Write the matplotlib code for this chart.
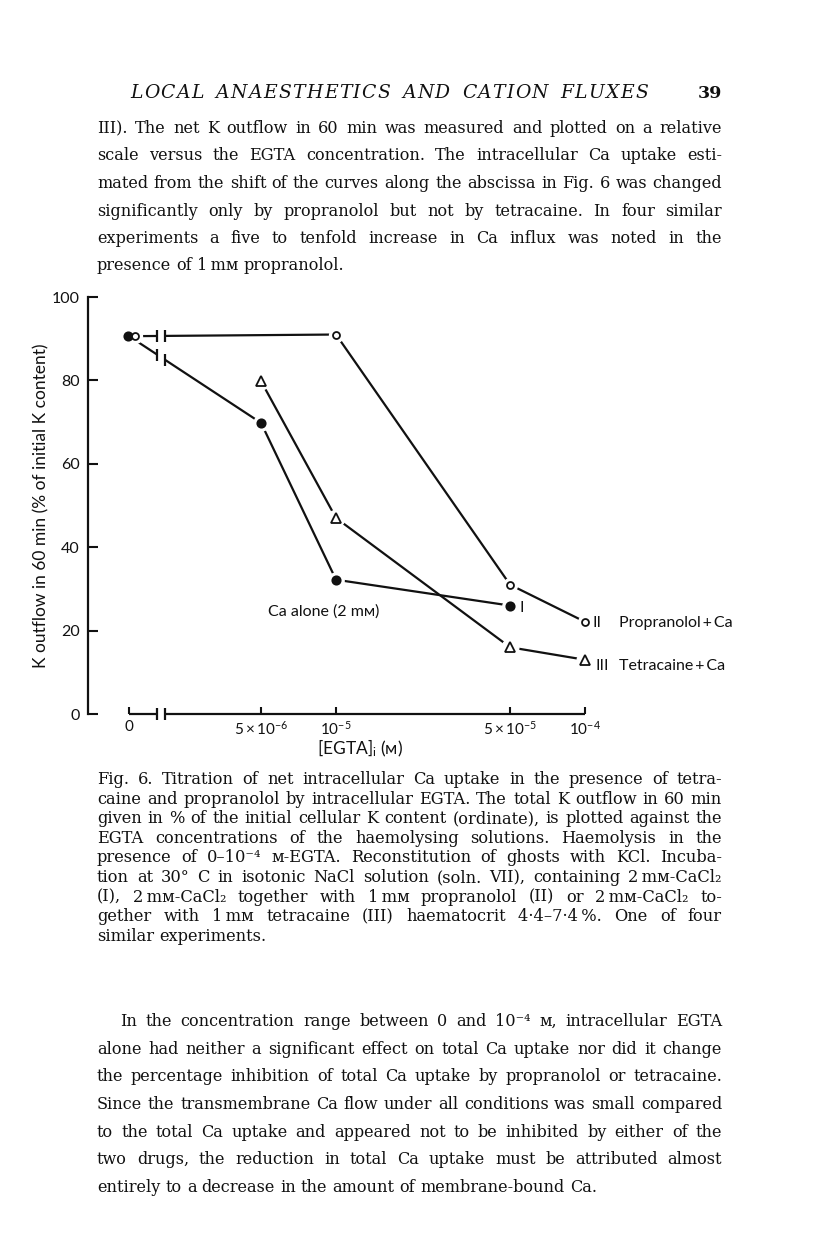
import numpy as np
import matplotlib
matplotlib.use('Agg')
import matplotlib.pyplot as plt
from matplotlib import transforms

W, H = 816, 1252
INK = '#111111'

# Fig. 6 data: intracellular EGTA (M) vs K outflow in 60 min (% of initial K)
egta_ca = [0, 5e-6, 1e-5, 5e-5]
kout_ca = [90.6, 69.8, 32.2, 26.0]
egta_prop = [0, 1e-5, 5e-5, 1e-4]
kout_prop = [90.6, 91.0, 31.0, 22.1]
egta_tetra = [5e-6, 1e-5, 5e-5, 1e-4]
kout_tetra = [79.8, 47.0, 16.0, 13.0]

xticks = [0, 5e-6, 1e-5, 5e-5, 1e-4]
xticklabels = ['0', r'$5\times10^{-6}$', r'$10^{-5}$', r'$5\times10^{-5}$', r'$10^{-4}$']
yticks = [0, 20, 40, 60, 80, 100]

# the "0" column sits left of a broken log axis
ZERO_AT = 1.476e-6
BREAK = (1.91e-6, 2.06e-6)

header = 'LOCAL ANAESTHETICS AND CATION FLUXES'
page_no = '39'
para1 = [
    'III). The net K outflow in 60 min was measured and plotted on a relative',
    'scale versus the EGTA concentration. The intracellular Ca uptake esti-',
    'mated from the shift of the curves along the abscissa in Fig. 6 was changed',
    'significantly only by propranolol but not by tetracaine. In four similar',
    'experiments a five to tenfold increase in Ca influx was noted in the',
    'presence of 1\u2009mм propranolol.',
]
caption = [
    'Fig. 6. Titration of net intracellular Ca uptake in the presence of tetra-',
    'caine and propranolol by intracellular EGTA. The total K outflow in 60 min',
    'given in % of the initial cellular K content (ordinate), is plotted against the',
    'EGTA concentrations of the haemolysing solutions. Haemolysis in the',
    'presence of 0\u201310\u207b\u2074 м-EGTA. Reconstitution of ghosts with KCl. Incuba-',
    'tion at 30° C in isotonic NaCl solution (soln. VII), containing 2\u2009mм-CaCl\u2082',
    '(I), 2\u2009mм-CaCl\u2082 together with 1\u2009mм propranolol (II) or 2\u2009mм-CaCl\u2082 to-',
    'gether with 1\u2009mм tetracaine (III) haematocrit 4·4\u20137·4\u2009%. One of four',
    'similar experiments.',
]
para2 = [
    'In the concentration range between 0 and 10\u207b\u2074 м, intracellular EGTA',
    'alone had neither a significant effect on total Ca uptake nor did it change',
    'the percentage inhibition of total Ca uptake by propranolol or tetracaine.',
    'Since the transmembrane Ca flow under all conditions was small compared',
    'to the total Ca uptake and appeared not to be inhibited by either of the',
    'two drugs, the reduction in total Ca uptake must be attributed almost',
    'entirely to a decrease in the amount of membrane-bound Ca.',
]

plt.rcParams['font.family'] = ['Lato', 'DejaVu Sans']
plt.rcParams['mathtext.fontset'] = 'custom'
plt.rcParams['mathtext.rm'] = 'Lato'
plt.rcParams['mathtext.it'] = 'Lato:italic'
plt.rcParams['mathtext.bf'] = 'Lato:bold'
SERIF = ['DejaVu Serif']


def fwd(c):
    c = np.asarray(c, float)
    return np.log10(np.where(c > 0, c, ZERO_AT))


def inv(p):
    return 10.0 ** np.asarray(p, float)


fig = plt.figure(figsize=(W / 100, H / 100), dpi=100)
fig.patch.set_facecolor('white')
renderer = fig.canvas.get_renderer()

# ---------------- chart ----------------
ax = fig.add_axes([88 / W, 1 - 714 / H, (600 - 88) / W, (714 - 297) / H])
ax.set_xscale('function', functions=(fwd, inv))
ax.set_yticks(yticks)
ax.set_xticks(xticks, xticklabels)
# limits after the ticks, otherwise set_xticks widens them to include 0
ax.set_xlim(inv(-5.996), inv(-3.940))
ax.set_ylim(0, 100)
ax.patch.set_alpha(0)
for s in ('top', 'right', 'bottom'):
    ax.spines[s].set_visible(False)
ax.spines['left'].set_linewidth(1.6)
ax.spines['left'].set_color(INK)
ax.tick_params(axis='y', direction='in', length=7, width=1.5, color=INK,
               labelsize=11.5, pad=6, labelcolor=INK)
ax.tick_params(axis='x', direction='in', length=5, width=1.5, color=INK,
               labelsize=11, pad=4, labelcolor=INK)

# broken abscissa
ax.plot([0, BREAK[0]], [0, 0], color=INK, lw=1.6, clip_on=False, solid_capstyle='butt')
ax.plot([BREAK[1], 1e-4], [0, 0], color=INK, lw=1.6, clip_on=False, solid_capstyle='butt')
ax.plot(BREAK, [0, 0], ls='none', marker='|', ms=9, mew=1.6, color=INK, clip_on=False)


def series(xs, ys, marker, ms, filled, zero_shift=0):
    ax.plot(xs, ys, color=INK, lw=1.6, zorder=2, clip_on=False)
    for x, y in zip(xs, ys):
        tr = ax.transData
        if x == 0:
            tr = transforms.offset_copy(ax.transData, fig, x=zero_shift, y=0, units='dots')
        ax.plot([x], [y], ls='none', marker='o', ms=ms + 5, color='white',
                zorder=3, transform=tr, clip_on=False)
        ax.plot([x], [y], ls='none', marker=marker, ms=ms, mec=INK, mew=1.3,
                mfc=INK if filled else 'white', zorder=4, transform=tr, clip_on=False)


series(egta_ca, kout_ca, 'o', 6, True, zero_shift=-1.5)
series(egta_prop, kout_prop, 'o', 5, False, zero_shift=6)
series(egta_tetra, kout_tetra, '^', 7, False)

# break marks on the curves crossing the gap
ax.axvspan(BREAK[0], BREAK[1], ymin=0.80, ymax=0.96, color='white', zorder=2.5, lw=0)
for xs, ys in [(egta_prop, kout_prop), (egta_ca, kout_ca)]:
    yb = np.interp(fwd(BREAK), fwd(xs[:2]), ys[:2])
    ax.plot(BREAK, yb, ls='none', marker='|', ms=9, mew=1.6, color=INK, zorder=5)

ax.text(8.95e-6, 24.5, 'Ca alone (2 mм)', ha='center', va='center', size=11.5, color=INK)
ann = dict(textcoords='offset pixels', va='center', ha='left', size=11.5, color=INK)
ax.annotate('I', (egta_ca[-1], kout_ca[-1]), xytext=(9, -2), **ann)
ax.annotate('II', (egta_prop[-1], kout_prop[-1]), xytext=(7, -1), **ann)
ax.annotate('Propranolol\u2009+\u2009Ca', (egta_prop[-1], kout_prop[-1]), xytext=(34, -1), **ann)
ax.annotate('III', (egta_tetra[-1], kout_tetra[-1]), xytext=(10, -6), **ann)
ax.annotate('Tetracaine\u2009+\u2009Ca', (egta_tetra[-1], kout_tetra[-1]), xytext=(34, -6), **ann)

ax.set_ylabel('K outflow in 60 min (% of initial K content)', size=12.5, color=INK)
ax.yaxis.set_label_coords(-0.075, 0.50)
ax.text((360 - 88) / 512, (714 - 748) / 417, r'[EGTA]$_{\rm i}$ (м)', transform=ax.transAxes,
        ha='center', va='center', size=12.5, color=INK)


# ---------------- page text ----------------
def measure(s, size, **kw):
    t = fig.text(0, 0, s, size=size, **kw)
    w = t.get_window_extent(renderer).width
    t.remove()
    return w


def space_w(size, **kw):
    return measure('n n', size, **kw) - measure('nn', size, **kw)


def fit_size(lines, width, base, **kw):
    nat = max(sum(measure(w, base, **kw) for w in ln.split(' '))
              + (len(ln.split(' ')) - 1) * space_w(base, **kw) for ln in lines)
    return base * width * 0.985 / nat


def put_line(s, y, x0, x1, size, justify=True, **kw):
    words = s.split(' ')
    arts = [fig.text(0, 1 - y / H, w, size=size, va='baseline', ha='left',
                     color=INK, **kw) for w in words]
    widths = [a.get_window_extent(renderer).width for a in arts]
    if justify and len(words) > 1:
        gap = (x1 - x0 - sum(widths)) / (len(words) - 1)
    else:
        gap = space_w(size, **kw)
    x = x0
    for a, w in zip(arts, widths):
        a.set_x(x / W)
        x += w + gap


def put_block(lines, y0, step, x0, x1, size, indent=0, **kw):
    for i, ln in enumerate(lines):
        last = i == len(lines) - 1
        put_line(ln, y0 + i * step, x0 + (indent if i == 0 else 0), x1, size,
                 justify=not last, **kw)


def put_tracked(s, y, x0, x1, size, **kw):
    # letter-spaced running head
    ws = [measure(c, size, **kw) if c != ' ' else space_w(size, **kw) * 1.6 for c in s]
    track = (x1 - x0 - sum(ws)) / (len(s) - 1)
    x = x0
    for c, w in zip(s, ws):
        if c != ' ':
            fig.text(x / W, 1 - y / H, c, size=size, va='baseline', ha='left',
                     color=INK, **kw)
        x += w + track


put_tracked(header, 98, 130, 648, 13.5, family=SERIF, style='italic')
fig.text(722 / W, 1 - 98 / H, page_no, size=12.5, va='baseline', ha='right',
         color=INK, family=SERIF, weight='bold')

body = fit_size(para1[:-1] + para2[:-1], 722 - 97, 12, family=SERIF)
cap = fit_size(caption[:-1], 722 - 97, 10, family=SERIF)
put_block(para1, 133, 27.5, 97, 722, body, family=SERIF)
put_block(caption, 784, 19.6, 97, 722, cap, family=SERIF)
put_block(para2, 1026, 27.7, 97, 722, body, indent=23, family=SERIF)

fig.savefig('out.png', dpi=100, facecolor='white')
